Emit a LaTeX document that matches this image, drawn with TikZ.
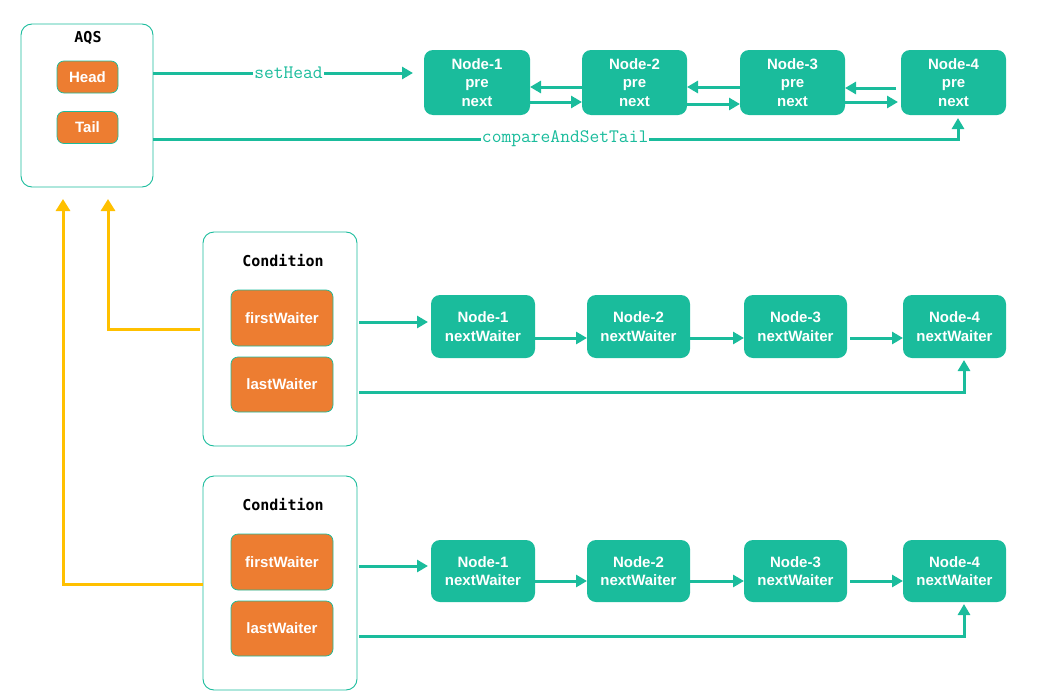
\documentclass[tikz,border=0pt]{standalone}
\usepackage{fontspec}
\setmainfont{Liberation Sans}
\newfontfamily\titfont{DejaVu Sans Mono}
\usetikzlibrary{arrows.meta}
\definecolor{teal1}{HTML}{1ABC9C}
\definecolor{org}{HTML}{ED7D31}
\definecolor{yel}{HTML}{FFC000}
\tikzset{
  box/.style={draw=teal1, line width=0.9pt, rounded corners=11pt, inner sep=0pt, outer sep=0pt},
  titl/.style={font=\titfont\bfseries\fontsize{15}{18}\selectfont, text=black, inner sep=0pt},
  ob/.style={fill=org, draw=teal1, line width=0.7pt, rounded corners=7pt, text=white,
    font=\bfseries\fontsize{15}{17}\selectfont, inner sep=0pt, outer sep=0pt, minimum width=102pt},
  tn/.style={fill=teal1, rounded corners=9pt, text=white, align=center,
    font=\bfseries\fontsize{15}{18.5}\selectfont, inner sep=0pt, outer sep=0pt},
  arr/.style={draw=teal1, line width=3pt, -{Triangle[length=11pt,width=12pt]}},
  yarr/.style={draw=yel, line width=3pt, -{Triangle[length=12pt,width=14pt]}},
  lab/.style={fill=white, inner sep=1pt, text=teal1, font=\ttfamily\fontsize{19}{20}\selectfont}
}
\begin{document}
\begin{tikzpicture}[x=1pt,y=-1pt]
\useasboundingbox (0,0) rectangle (1037,699);

% AQS
\node[box, minimum width=132pt, minimum height=163pt] (aqs) at (87,105.5) {};
\node[titl] (aqst) at (88,38) {AQS};
\node[ob, minimum width=61pt, minimum height=32pt] (head) at (87.5,77) {Head};
\node[ob, minimum width=61pt, minimum height=32pt] (tail) at (87.5,127.5) {Tail};

% top nodes
\node[tn, minimum width=106pt, minimum height=65pt] (n1) at (477,82.5) {Node-1\\pre\\next};
\node[tn, minimum width=105pt, minimum height=65pt] (n2) at (634.5,82.5) {Node-2\\pre\\next};
\node[tn, minimum width=105pt, minimum height=65pt] (n3) at (792.5,82.5) {Node-3\\pre\\next};
\node[tn, minimum width=105pt, minimum height=65pt] (n4) at (953.5,82.5) {Node-4\\pre\\next};

\draw[arr, shorten >=11pt] (aqs.east |- 0,73) -- node[lab, pos=0.5] {setHead} (n1.west |- 0,73);
\draw[arr, shorten >=3pt] (aqs.east |- 0,139) -| node[lab, pos=0.256] {compareAndSetTail} ([xshift=4.5pt]n4.south);

\draw[arr] (n2.west |- 0,87) -- (n1.east |- 0,87);
\draw[arr] (n1.east |- 0,102) -- (n2.west |- 0,102);
\draw[arr] (n3.west |- 0,87) -- (n2.east |- 0,87);
\draw[arr] (n2.east |- 0,104) -- (n3.west |- 0,104);
\draw[arr, shorten <=5pt] (n4.west |- 0,88) -- (n3.east |- 0,88);
\draw[arr, shorten >=3pt] (n3.east |- 0,102) -- (n4.west |- 0,102);

% Condition 1
\node[box, minimum width=154pt, minimum height=214pt] (c1) at (280,339) {};
\node[titl] (c1t) at (283,261) {Condition};
\node[ob, minimum height=56pt] (fw1) at (282,318) {firstWaiter};
\node[ob, minimum height=55pt] (lw1) at (282,384.5) {lastWaiter};

\node[tn, minimum width=104pt, minimum height=63pt] (a1) at (483,326.5) {Node-1\\nextWaiter};
\node[tn, minimum width=103pt, minimum height=63pt] (a2) at (638.5,326.5) {Node-2\\nextWaiter};
\node[tn, minimum width=103pt, minimum height=63pt] (a3) at (795.5,326.5) {Node-3\\nextWaiter};
\node[tn, minimum width=103pt, minimum height=63pt] (a4) at (954.5,326.5) {Node-4\\nextWaiter};

\draw[arr, shorten <=2pt, shorten >=3pt] (c1.east |- 0,322) -- (a1.west |- 0,322);
\draw[arr] (a1.east |- 0,338) -- (a2.west |- 0,338);
\draw[arr] (a2.east |- 0,338) -- (a3.west |- 0,338);
\draw[arr, shorten <=3pt] (a3.east |- 0,338) -- (a4.west |- 0,338);
\draw[arr, shorten <=2pt, shorten >=2pt] (c1.east |- 0,392) -| ([xshift=9.5pt]a4.south);

% Condition 2
\node[box, minimum width=154pt, minimum height=214pt] (c2) at (280,583) {};
\node[titl] (c2t) at (283,505) {Condition};
\node[ob, minimum height=56pt] (fw2) at (282,562) {firstWaiter};
\node[ob, minimum height=55pt] (lw2) at (282,628.5) {lastWaiter};

\node[tn, minimum width=104pt, minimum height=62pt] (b1) at (483,571) {Node-1\\nextWaiter};
\node[tn, minimum width=103pt, minimum height=62pt] (b2) at (638.5,571) {Node-2\\nextWaiter};
\node[tn, minimum width=103pt, minimum height=62pt] (b3) at (795.5,571) {Node-3\\nextWaiter};
\node[tn, minimum width=103pt, minimum height=62pt] (b4) at (954.5,571) {Node-4\\nextWaiter};

\draw[arr, shorten <=2pt, shorten >=3pt] (c2.east |- 0,566) -- (b1.west |- 0,566);
\draw[arr] (b1.east |- 0,581) -- (b2.west |- 0,581);
\draw[arr] (b2.east |- 0,581) -- (b3.west |- 0,581);
\draw[arr, shorten <=3pt] (b3.east |- 0,581) -- (b4.west |- 0,581);
\draw[arr, shorten <=2pt, shorten >=2pt] (c2.east |- 0,636) -| ([xshift=9.5pt]b4.south);

% yellow
\draw[yarr, shorten <=3pt, shorten >=12pt] (c1.west |- 0,329) -| (108,0 |- aqs.south);
\draw[yarr, shorten >=12pt] (c2.west |- 0,584) -| (63,0 |- aqs.south);
\end{tikzpicture}
\end{document}
